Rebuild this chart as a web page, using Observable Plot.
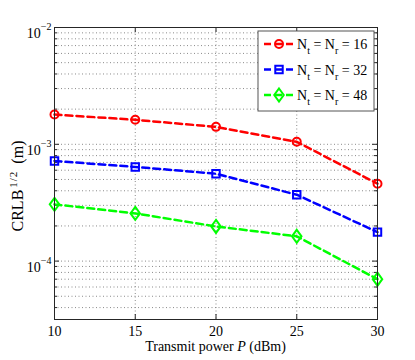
<!DOCTYPE html>
<html><head><meta charset="utf-8">
<script src="https://cdn.jsdelivr.net/npm/d3@7"></script>
<script src="https://cdn.jsdelivr.net/npm/@observablehq/plot@0.6"></script>
<style>
body{margin:0;background:#fff;}
#wrap{position:relative;width:415px;height:360px;}
</style></head><body><div id="wrap"></div>
<script>
// ---- data ----
const power = [10, 15, 20, 25, 30];
const crlbN16 = [1.80e-3, 1.62e-3, 1.41e-3, 1.05e-3, 4.6e-4];
const crlbN32 = [7.2e-4, 6.4e-4, 5.6e-4, 3.7e-4, 1.77e-4];
const crlbN48 = [3.06e-4, 2.56e-4, 1.98e-4, 1.63e-4, 7.0e-5];
const antennaCounts = ["16", "32", "48"];
const xTicks = [10, 15, 20, 25, 30];
const yMajor = [1e-4, 1e-3, 1e-2];
const yDomain = [Math.pow(10, -4.5), 1e-2];

const W = 415, H = 360, mL = 54, mR = 38, mT = 27, mB = 41;
const frameW = W - mL - mR, frameH = H - mT - mB;

const diamond = {
  draw(ctx, size) {
    const r = Math.sqrt(size / Math.PI);
    ctx.moveTo(0, -r * 1.3); ctx.lineTo(r * 0.95, 0);
    ctx.lineTo(0, r * 1.3); ctx.lineTo(-r * 0.95, 0); ctx.closePath();
  }
};
const series = [
  {key: antennaCounts[0], values: crlbN16, color: "#ff0000", symbol: "circle", r: 4},
  {key: antennaCounts[1], values: crlbN32, color: "#0000ff", symbol: "square", r: 4.2},
  {key: antennaCounts[2], values: crlbN48, color: "#00ff00", symbol: diamond, r: 5}
];
const rows = series.flatMap(s => power.map((p, i) => ({p, v: s.values[i], key: s.key})));

// minor log grid
const gridY = [];
[1e-5, 1e-4, 1e-3].forEach(d => { for (let k = 1; k <= 9; k++) { const v = k * d; if (v >= yDomain[0] * 0.999 && v <= yDomain[1] * 1.001) gridY.push(v); } });
gridY.push(1e-2);
const minorY = gridY.filter(v => !yMajor.some(m => Math.abs(m - v) / m < 1e-6));

const gridStyle = {stroke: "#8a8a8a", strokeDasharray: "1,2.5", strokeWidth: 1};
const tickStyle = {stroke: "#262626", strokeWidth: 1};

const marks = [
  Plot.ruleY(gridY, {...gridStyle}),
  Plot.ruleX(xTicks.slice(1, -1), {...gridStyle}),
  Plot.tickY(yMajor, {...tickStyle, insetRight: frameW - 5}),
  Plot.tickY(yMajor, {...tickStyle, insetLeft: frameW - 5}),
  Plot.tickY(minorY, {...tickStyle, insetRight: frameW - 3}),
  Plot.tickY(minorY, {...tickStyle, insetLeft: frameW - 3}),
  Plot.tickX(xTicks, {...tickStyle, insetTop: frameH - 5}),
  Plot.tickX(xTicks, {...tickStyle, insetBottom: frameH - 5})
];
series.forEach(s => {
  const d = rows.filter(r => r.key === s.key);
  marks.push(Plot.line(d, {x: "p", y: "v", stroke: s.color, strokeWidth: 2.5, strokeDasharray: "7,4"}));
  marks.push(Plot.dot(d, {x: "p", y: "v", stroke: s.color, strokeWidth: 2, fill: "none", r: s.r, symbol: s.symbol}));
});
marks.push(Plot.frame({stroke: "#262626"}));
marks.push(Plot.axisX(xTicks, {tickSize: 0, tickPadding: 7, label: null}));
marks.push(Plot.axisY(yMajor, {tickSize: 0, tickPadding: 3, tickFormat: () => "10", label: null}));

const svg = Plot.plot({
  width: W, height: H,
  marginLeft: mL, marginRight: mR, marginTop: mT, marginBottom: mB,
  style: {fontFamily: '"Liberation Serif", "Times New Roman", serif', fontSize: "14px", background: "#fff", color: "#000"},
  x: {domain: [10, 30]},
  y: {type: "log", domain: yDomain},
  marks
});
document.getElementById("wrap").appendChild(svg);

const S = d3.select(svg);
// y tick labels with superscript exponents
S.selectAll('g[aria-label="y-axis tick label"] text').each(function(_, i) {
  const e = Math.round(Math.log10(yMajor[i]));
  const t = d3.select(this);
  t.attr("dy", "0.45em").text("10");
  t.append("tspan").attr("font-size", 10).attr("dy", -8).text("\u2212" + Math.abs(e));
});

// axis titles
S.append("text").attr("x", mL + frameW / 2).attr("y", 351).attr("text-anchor", "middle")
  .attr("font-size", 14)
  .call(t => { t.append("tspan").text("Transmit power "); t.append("tspan").attr("font-style", "italic").text("P"); t.append("tspan").text(" (dBm)"); });

S.append("text").attr("transform", "translate(23,186) rotate(-90)").attr("text-anchor", "middle")
  .attr("font-size", 16)
  .call(t => {
    t.append("tspan").text("CRLB");
    t.append("tspan").attr("font-size", 11).attr("dy", -6).attr("dx", 2).attr("letter-spacing", 1).text("1/2");
    t.append("tspan").attr("dy", 6).attr("dx", 3).text(" (m)");
  });

// legend
const L = S.append("g").attr("transform", "translate(258,31)");
L.append("rect").attr("width", 116).attr("height", 80).attr("fill", "#fff").attr("stroke", "#555").attr("stroke-width", 1);
const symPath = s => d3.symbol().type(s.symbol === "circle" ? d3.symbolCircle : s.symbol === "square" ? d3.symbolSquare : s.symbol).size(Math.PI * s.r * s.r)();
series.forEach((s, i) => {
  const cy = 13 + i * 25.5;
  const g = L.append("g").attr("transform", `translate(0,${cy})`);
  g.append("line").attr("x1", 6).attr("x2", 36).attr("y1", 0).attr("y2", 0)
    .attr("stroke", s.color).attr("stroke-width", 2.5).attr("stroke-dasharray", "7,4");
  g.append("path").attr("d", symPath(s)).attr("transform", "translate(21,0)")
    .attr("fill", "none").attr("stroke", s.color).attr("stroke-width", 2);
  const t = g.append("text").attr("x", 39).attr("y", 5).attr("font-size", 14).attr("text-anchor", "start");
  t.append("tspan").text("N");
  t.append("tspan").attr("font-size", 10).attr("dy", 5).text("t");
  t.append("tspan").attr("dy", -5).text(" = N");
  t.append("tspan").attr("font-size", 10).attr("dy", 5).text("r");
  t.append("tspan").attr("dy", -5).text(" = " + s.key);
});
</script></body></html>
